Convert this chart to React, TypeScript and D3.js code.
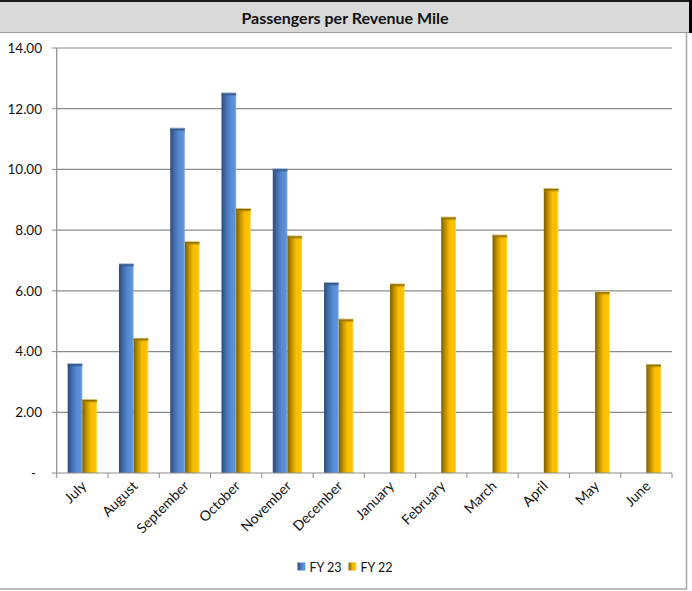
import React from "react";
import * as d3 from "d3";

const months = [
  "July", "August", "September", "October", "November", "December",
  "January", "February", "March", "April", "May", "June",
];
const seriesNames = ["FY 23", "FY 22"];
const fy23: (number | null)[] = [3.61, 6.9, 11.37, 12.53, 10.03, 6.28, null, null, null, null, null, null];
const fy22: (number | null)[] = [2.43, 4.45, 7.63, 8.72, 7.82, 5.08, 6.24, 8.44, 7.85, 9.38, 5.98, 3.59];
const yTicks = [0, 2, 4, 6, 8, 10, 12, 14];

const W = 692;
const H = 591;
const plot = { left: 56.7, right: 672, top: 48, bottom: 473 };
const FONT = "Lato, 'Open Sans', sans-serif";

export default function App() {
  const x = d3.scaleBand<string>().domain(months).range([plot.left, plot.right]).padding(0);
  const xs = d3
    .scaleBand<string>()
    .domain(seriesNames)
    .range([0, x.bandwidth()])
    .paddingInner(0)
    .paddingOuter(0.75);
  const y = d3.scaleLinear().domain([0, 14]).range([plot.bottom, plot.top]);
  const fmt = (v: number) => (v === 0 ? "-" : d3.format(".2f")(v));

  const series = [
    { name: seriesNames[0], values: fy23, grad: "gBlue", cap: "cBlue" },
    { name: seriesNames[1], values: fy22, grad: "gGold", cap: "cGold" },
  ];

  const boundaries = [...months.map((m) => x(m) as number), plot.right];

  return (
    <svg
      width={W}
      height={H}
      style={{ position: "absolute", left: 0, top: 0, background: "#fff" }}
      fontFamily={FONT}
    >
      <defs>
        <linearGradient id="gBlue" x1="0" x2="1" y1="0" y2="0">
          <stop offset="0" stopColor="#2c4a78" />
          <stop offset="0.3" stopColor="#436fae" />
          <stop offset="0.6" stopColor="#5689d2" />
          <stop offset="0.9" stopColor="#5d93dc" />
          <stop offset="1" stopColor="#8fb6ea" />
        </linearGradient>
        <linearGradient id="gGold" x1="0" x2="1" y1="0" y2="0">
          <stop offset="0" stopColor="#7a5e00" />
          <stop offset="0.3" stopColor="#c49400" />
          <stop offset="0.6" stopColor="#fdbd00" />
          <stop offset="0.9" stopColor="#ffc200" />
          <stop offset="1" stopColor="#ffdb66" />
        </linearGradient>
        <linearGradient id="cBlue" x1="0" x2="0" y1="0" y2="1">
          <stop offset="0" stopColor="#c9d6e8" />
          <stop offset="0.3" stopColor="#2f4f80" />
          <stop offset="1" stopColor="#3d649c" stopOpacity="0" />
        </linearGradient>
        <linearGradient id="cGold" x1="0" x2="0" y1="0" y2="1">
          <stop offset="0" stopColor="#e8dcae" />
          <stop offset="0.3" stopColor="#8a6a00" />
          <stop offset="1" stopColor="#b08600" stopOpacity="0" />
        </linearGradient>
      </defs>

      {/* frame and title bar */}
      <rect x={0} y={2} width={689} height={30} fill="#d9d9d9" />
      <line x1={0} x2={692} y1={1} y2={1} stroke="#1a1a1a" strokeWidth={2} />
      <line x1={0} x2={689} y1={32.5} y2={32.5} stroke="#9a9a9a" strokeWidth={1} />
      <line x1={690.5} x2={690.5} y1={0} y2={33} stroke="#000" strokeWidth={3} />
      <line x1={686.5} x2={686.5} y1={33} y2={589} stroke="#a6a6a6" strokeWidth={1.5} />
      <line x1={0} x2={687} y1={589} y2={589} stroke="#a6a6a6" strokeWidth={1.5} />
      <text
        x={345}
        y={23.5}
        textAnchor="middle"
        fontSize={16}
        fontWeight="bold"
        fill="#111"
      >
        Passengers per Revenue Mile
      </text>

      {/* gridlines and y axis */}
      {yTicks.map((t) => (
        <g key={t}>
          {t > 0 && (
            <line
              x1={plot.left}
              x2={plot.right}
              y1={y(t)}
              y2={y(t)}
              stroke="#8c8c8c"
              strokeWidth={1.2}
            />
          )}
          <line x1={plot.left - 5} x2={plot.left} y1={y(t)} y2={y(t)} stroke="#8c8c8c" strokeWidth={1} />
          <text
            x={t === 0 ? 36 : 42}
            y={y(t)}
            dy="0.36em"
            textAnchor="end"
            fontSize={13.5}
            fill="#111"
          >
            {fmt(t)}
          </text>
        </g>
      ))}
      <line x1={plot.left} x2={plot.left} y1={plot.top} y2={plot.bottom} stroke="#8c8c8c" strokeWidth={1.2} />

      {/* bars */}
      {series.map((s) =>
        months.map((m, i) => {
          const v = s.values[i];
          if (v == null) return null;
          const bx = (x(m) as number) + (xs(s.name) as number);
          const bw = xs.bandwidth();
          const top = y(v);
          return (
            <g key={s.name + m}>
              <rect x={bx} y={top} width={bw} height={plot.bottom - top} fill={`url(#${s.grad})`} />
              <rect x={bx} y={top} width={bw} height={4} fill={`url(#${s.cap})`} />
            </g>
          );
        })
      )}

      {/* x axis */}
      <line x1={plot.left} x2={plot.right} y1={plot.bottom} y2={plot.bottom} stroke="#8c8c8c" strokeWidth={1.2} />
      {boundaries.map((bx, i) => (
        <line key={i} x1={bx} x2={bx} y1={plot.bottom} y2={plot.bottom + 5} stroke="#8c8c8c" strokeWidth={1} />
      ))}
      {months.map((m) => {
        const cx = (x(m) as number) + x.bandwidth() / 2;
        return (
          <text
            key={m}
            transform={`translate(${cx + 5},${plot.bottom + 14}) rotate(-45)`}
            textAnchor="end"
            fontSize={14}
            fill="#111"
          >
            {m}
          </text>
        );
      })}

      {/* legend */}
      {series.map((s, i) => {
        const lx = 297.5 + i * 51;
        return (
          <g key={s.name}>
            <rect x={lx} y={562.5} width={8} height={8} fill={`url(#${s.grad})`} />
            <text x={lx + 12} y={571.5} fontSize={12.5} fill="#111">
              {s.name}
            </text>
          </g>
        );
      })}
    </svg>
  );
}
